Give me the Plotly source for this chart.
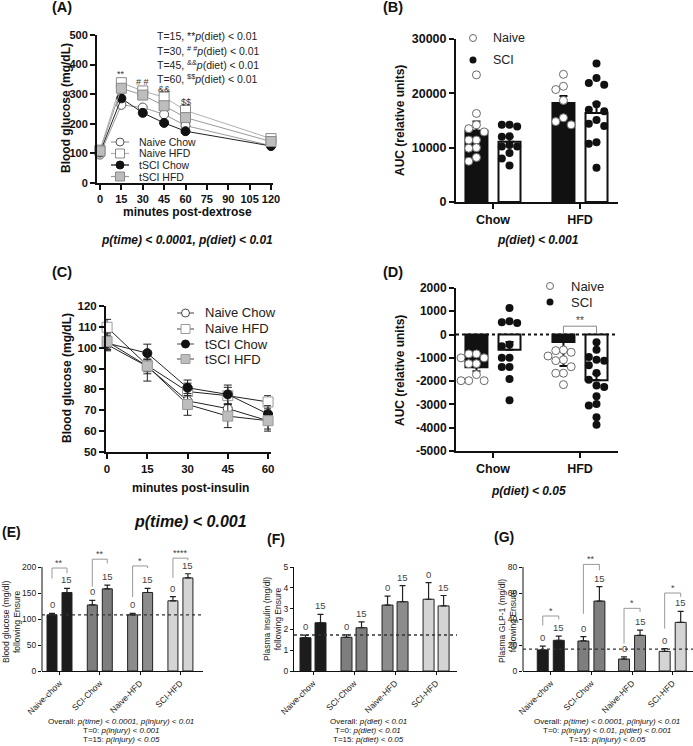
import plotly.graph_objects as go

W, H = 693, 746
FONT = "Liberation Sans, Arial, sans-serif"

# ======================= DATA =======================
# (A) glucose tolerance: blood glucose (mg/dL) vs minutes post-dextrose
gtt_minutes = [0, 15, 30, 45, 60, 120]
gtt_naive_chow = [96, 264, 255, 232, 194, 126]
gtt_naive_chow_sem = [5, 9, 8, 8, 7, 4]
gtt_naive_hfd = [111, 339, 311, 290, 245, 150]
gtt_naive_hfd_sem = [5, 10, 9, 9, 9, 5]
gtt_tsci_chow = [103, 286, 237, 203, 175, 125]
gtt_tsci_chow_sem = [5, 9, 12, 7, 7, 4]
gtt_tsci_hfd = [108, 320, 297, 261, 221, 140]
gtt_tsci_hfd_sem = [5, 12, 14, 12, 12, 5]
gtt_xticks = [0, 15, 30, 45, 60, 75, 90, 105, 120]
gtt_yticks = [0, 100, 200, 300, 400, 500]
gtt_sig_minutes = [15, 30, 45, 60]
gtt_sig_marks = ["**", "# #", "&amp;&amp;", "$$"]
gtt_stat_lines = [
    "T=15, **<i>p</i>(diet) &lt; 0.01",
    "T=30, <sup># #</sup><i>p</i>(diet) &lt; 0.01",
    "T=45, <sup>&amp;&amp;</sup><i>p</i>(diet) &lt; 0.01",
    "T=60, <sup>$$</sup><i>p</i>(diet) &lt; 0.01",
]
series_names = ["Naive Chow", "Naive HFD", "tSCI Chow", "tSCI HFD"]

# (B) GTT area under curve
diets = ["Chow", "HFD"]
gtt_auc_naive_mean = [13100, 18200]
gtt_auc_naive_sem = [1700, 1300]
gtt_auc_sci_mean = [11100, 16400]
gtt_auc_sci_sem = [900, 1800]
gtt_auc_naive_chow = [23400, 16300, 14200, 13500, 12900, 11400, 11400, 10000, 9900, 8200, 7500]
gtt_auc_sci_chow = [14200, 14200, 13900, 12100, 12000, 10500, 10200, 10200, 9000, 8000, 6700]
gtt_auc_naive_hfd = [23500, 21300, 20700, 18700, 15500, 14800, 14200]
gtt_auc_sci_hfd = [25500, 22800, 21900, 21600, 18000, 17000, 16700, 15100, 14400, 14000,
                   11000, 10700, 6300]
gtt_auc_yticks = [0, 10000, 20000, 30000]

# (C) insulin tolerance: blood glucose (mg/dL) vs minutes post-insulin
itt_minutes = [0, 15, 30, 45, 60]
itt_naive_chow = [101.5, 91, 74.5, 70.8, 65]
itt_naive_chow_sem = [3, 3.5, 4, 4, 4]
itt_naive_hfd = [109.8, 91.5, 79, 77, 74]
itt_naive_hfd_sem = [3.8, 3, 4, 4, 3]
itt_tsci_chow = [102.2, 97.4, 80.8, 77.6, 68.2]
itt_tsci_chow_sem = [3, 4.3, 3.7, 4.5, 4]
itt_tsci_hfd = [103, 91.2, 72.8, 67.2, 65]
itt_tsci_hfd_sem = [4, 7.2, 5.2, 5.5, 5]
itt_xticks = [0, 15, 30, 45, 60]
itt_yticks = [50, 60, 70, 80, 90, 100, 110, 120]

# (D) ITT area under curve
itt_auc_naive_mean = [-1400, -320]
itt_auc_naive_err_up = [0, 0]
itt_auc_naive_err_down = [170, 1030]
itt_auc_sci_mean = [-650, -1960]
itt_auc_sci_err_up = [330, 270]
itt_auc_sci_err_down = [0, 0]
itt_auc_naive_chow = [-830, -830, -1000, -1000, -1250, -1250, -1720, -1980, -1980, -1980]
itt_auc_sci_chow = [1140, 500, 530, 570, -430, -505, -1000, -1000, -1390, -1390, -1910, -2820]
itt_auc_naive_hfd = [-660, -690, -760, -920, -1080, -1120, -1380, -1660, -1660, -2150]
itt_auc_sci_hfd = [-330, -650, -960, -1080, -1120, -1320, -1650, -1940, -2190, -2250,
                   -2650, -2980, -3050, -3550, -3870]
itt_auc_yticks = [-5000, -4000, -3000, -2000, -1000, 0, 1000, 2000]

# (E)(F)(G) responses following Ensure at T=0 and T=15
ensure_groups = ["Naive-chow", "SCI-Chow", "Naive-HFD", "SCI-HFD"]
ensure_times = ["0", "15"]
glucose_t0 = [108, 127, 108, 135]
glucose_t0_sem = [3, 9, 3, 8]
glucose_t15 = [151, 158, 151, 179]
glucose_t15_sem = [8, 7, 8, 8]
glucose_ref = 108
glucose_sig = ["**", "**", "*", "****"]
glucose_yticks = [0, 50, 100, 150, 200]

insulin_t0 = [1.60, 1.62, 3.17, 3.45]
insulin_t0_sem = [0.12, 0.12, 0.43, 0.80]
insulin_t15 = [2.32, 2.08, 3.33, 3.13]
insulin_t15_sem = [0.40, 0.28, 0.77, 0.50]
insulin_ref = 1.73
insulin_yticks = [0, 1, 2, 3, 4, 5]

glp1_t0 = [16.2, 23.1, 9.2, 15.1]
glp1_t0_sem = [3.0, 3.3, 1.6, 2.1]
glp1_t15 = [23.6, 53.8, 27.4, 37.4]
glp1_t15_sem = [3.3, 11.1, 4.1, 8.5]
glp1_ref = 16.8
glp1_sig = ["*", "**", "*", "*"]
glp1_yticks = [0, 20, 40, 60, 80]

# ======================= LAYOUT HELPERS =======================
def X(px):
    return px / W


def Y(py):
    return 1 - py / H


layout = dict(width=W, height=H, margin=dict(l=0, r=0, t=0, b=0, autoexpand=False),
              paper_bgcolor="white", plot_bgcolor="rgba(0,0,0,0)",
              showlegend=False, font=dict(family=FONT, color="#111"))
annotations = []
shapes = []
fig = go.Figure()


def ann(text, px, py, size, bold=False, italic=False, xanchor="center", yanchor="middle",
        angle=0, color="#111"):
    t = text
    if italic:
        t = "<i>" + t + "</i>"
    if bold:
        t = "<b>" + t + "</b>"
    annotations.append(dict(text=t, x=X(px), y=Y(py), xref="paper", yref="paper",
                            xanchor=xanchor, yanchor=yanchor, showarrow=False,
                            textangle=angle, font=dict(family=FONT, size=size, color=color)))


def gp_axis(rng, tickvals, ticktext=None, size=11, lw=2, ticklen=5, bold=True, color="#111",
            showline=True, angle=None):
    d = dict(range=rng, tickvals=tickvals, showline=showline, linecolor="#111", linewidth=lw,
             ticks="outside", ticklen=ticklen, tickwidth=lw, tickcolor="#111",
             showgrid=False, zeroline=False, fixedrange=True, automargin=False,
             tickfont=dict(family=FONT, size=size, color=color,
                           weight="bold" if bold else "normal"))
    d["ticktext"] = ticktext if ticktext is not None else [str(v) for v in tickvals]
    if angle is not None:
        d["tickangle"] = angle
    return d


def set_axes(n, xdom, ydom, xax, yax):
    s = "" if n == 1 else str(n)
    xax["domain"] = [max(0, X(xdom[0])), min(1, X(xdom[1]))]
    xax["anchor"] = "y" + s
    yax["domain"] = [max(0, Y(ydom[0])), min(1, Y(ydom[1]))]
    yax["anchor"] = "x" + s
    layout["xaxis" + s] = xax
    layout["yaxis" + s] = yax
    return ("x" + s, "y" + s)


def legend_marker(px, py, symbol, size, fill, edge, ew=1):
    r = size / 2
    shapes.append(dict(type="circle" if symbol == "circle" else "rect", xref="paper", yref="paper",
                       xsizemode="pixel", ysizemode="pixel", xanchor=X(px), yanchor=Y(py),
                       x0=-r, x1=r, y0=-r, y1=r, fillcolor=fill,
                       line=dict(color=edge, width=ew), layer="above"))


def legend_line(px0, px1, py, color, width=1):
    shapes.append(dict(type="line", xref="paper", yref="paper", x0=X(px0), x1=X(px1),
                       y0=Y(py), y1=Y(py), line=dict(color=color, width=width), layer="above"))


def swarm(vals, unit_px, step, diam):
    order = sorted(range(len(vals)), key=lambda i: -vals[i])
    cands = [0.0] + [s * k * step for k in range(1, 8) for s in (-1, 1)]
    placed, out = [], [0.0] * len(vals)
    for i in order:
        yy = vals[i] * unit_px
        chosen = cands[-1]
        for c in cands:
            if all((c - a) ** 2 + (yy - b) ** 2 >= 0.9 * diam ** 2 for a, b in placed):
                chosen = c
                break
        placed.append((chosen, yy))
        out[i] = chosen
    return out


# ======================= (A) =======================
ax_a = set_axes(1, (97, 273), (183, 35),
                gp_axis([-2.1, 121.4], gtt_xticks, size=11),
                gp_axis([0, 500], gtt_yticks, size=11))
styleA = [
    dict(symbol="circle", size=9, fill="white", edge="#555", line="#9a9a9a"),
    dict(symbol="square", size=10, fill="white", edge="#8a8a8a", line="#b0b0b0"),
    dict(symbol="circle", size=9, fill="#111", edge="#111", line="#222"),
    dict(symbol="square", size=10, fill="#bdbdbd", edge="#8a8a8a", line="#9a9a9a"),
]
seriesA = [(gtt_naive_chow, gtt_naive_chow_sem), (gtt_naive_hfd, gtt_naive_hfd_sem),
           (gtt_tsci_chow, gtt_tsci_chow_sem), (gtt_tsci_hfd, gtt_tsci_hfd_sem)]
for (vals, sem), st, nm in zip(seriesA, styleA, series_names):
    fig.add_trace(go.Scatter(
        x=gtt_minutes, y=vals, name=nm, mode="lines+markers", xaxis=ax_a[0], yaxis=ax_a[1],
        line=dict(color=st["line"], width=1),
        marker=dict(symbol=st["symbol"], size=st["size"], color=st["fill"],
                    line=dict(color=st["edge"], width=1)),
        error_y=dict(type="data", array=sem, color=st["line"], thickness=1, width=3),
        cliponaxis=False))
# significance symbols above each time point
all_tops = [max(s[0][gtt_minutes.index(m)] + s[1][gtt_minutes.index(m)] for s in seriesA)
            for m in gtt_sig_minutes]
for m, mark, top in zip(gtt_sig_minutes, gtt_sig_marks, all_tops):
    annotations.append(dict(text=mark, x=m, y=top, xref=ax_a[0], yref=ax_a[1], showarrow=False,
                            yanchor="bottom", yshift=-1,
                            font=dict(family=FONT, size=9, color="#333")))
for i, line in enumerate(gtt_stat_lines):
    ann(line, 155, 36 + i * 14.2, 10.5, xanchor="left", color="#222")
legA_rows = [142, 153.5, 165, 176.5]
for py, st, nm in zip(legA_rows, styleA, series_names):
    legend_line(111, 129, py, st["line"] if st["fill"] != "#111" else "#111", 1.2)
    legend_marker(120, py, st["symbol"], st["size"] - 1, st["fill"], st["edge"], 1)
    ann(nm, 137, py, 10.5, xanchor="left", color="#222")
ann("(A)", 62, 7.5, 14.5, bold=True)
ann("Blood glucose (mg/dL)", 66, 108, 12, bold=True, angle=-90)
ann("minutes post-dextrose", 187, 212, 12, bold=True)
ann("p(time) &lt; 0.0001, p(diet) &lt; 0.01", 187, 240, 12, bold=True, italic=True)

# ======================= (B) =======================
grp_x = [1, 2]
OFF, BW = 0.19, 0.253
ax_b = set_axes(2, (456, 618), (202, 39),
                gp_axis([0.575, 2.437], grp_x, diets, size=12.5),
                gp_axis([0, 30000], gtt_auc_yticks, size=12.5))
fig.add_trace(go.Bar(x=[g - OFF for g in grp_x], y=gtt_auc_naive_mean, width=BW, name="Naive",
                     xaxis=ax_b[0], yaxis=ax_b[1],
                     marker=dict(color="#111", line=dict(color="#111", width=2)),
                     error_y=dict(type="data", array=gtt_auc_naive_sem, arrayminus=[0, 0],
                                  symmetric=False, color="#111", thickness=2, width=4)))
fig.add_trace(go.Bar(x=[g + OFF for g in grp_x], y=gtt_auc_sci_mean, width=BW, name="SCI",
                     xaxis=ax_b[0], yaxis=ax_b[1],
                     marker=dict(color="white", line=dict(color="#111", width=2)),
                     error_y=dict(type="data", array=gtt_auc_sci_sem, arrayminus=[0, 0],
                                  symmetric=False, color="#111", thickness=2, width=4)))
B_YPX = 163 / 30000.0
B_XPX = 87.0


def add_points(ax, vals, xc, ypx, open_marker):
    offs = swarm(vals, ypx, 7.7, 7.7)
    fig.add_trace(go.Scatter(
        x=[xc + o / B_XPX for o in offs], y=vals, mode="markers", xaxis=ax[0], yaxis=ax[1],
        marker=dict(symbol="circle", size=8, color="white" if open_marker else "#111",
                    line=dict(color="#6a6a6a" if open_marker else "#111",
                              width=1 if open_marker else 0)),
        cliponaxis=False))


add_points(ax_b, gtt_auc_naive_chow, 1 - OFF, B_YPX, True)
add_points(ax_b, gtt_auc_sci_chow, 1 + OFF, B_YPX, False)
add_points(ax_b, gtt_auc_naive_hfd, 2 - OFF, B_YPX, True)
add_points(ax_b, gtt_auc_sci_hfd, 2 + OFF, B_YPX, False)
legend_marker(473, 38, "circle", 7, "white", "#6a6a6a", 1)
ann("Naive", 491, 38, 12.5, xanchor="left", color="#222")
legend_marker(473, 60, "circle", 7, "#111", "#111", 0)
ann("SCI", 491, 60, 12.5, xanchor="left", color="#222")
ann("(B)", 393, 7.5, 14.5, bold=True)
ann("AUC (relative units)", 400, 120, 12, bold=True, angle=-90)
ann("p(diet) &lt; 0.001", 538, 240, 12, bold=True, italic=True)

# ======================= (C) =======================
ax_c = set_axes(3, (106, 271), (452, 306),
                gp_axis([-0.4, 61.1], itt_xticks, size=11.5),
                gp_axis([50, 120], itt_yticks, size=11.5))
styleC = [
    dict(symbol="circle", size=9, fill="white", edge="#444"),
    dict(symbol="square", size=10, fill="white", edge="#9a9a9a"),
    dict(symbol="circle", size=9, fill="#111", edge="#111"),
    dict(symbol="square", size=10, fill="#bdbdbd", edge="#9a9a9a"),
]
seriesC = [(itt_naive_chow, itt_naive_chow_sem), (itt_naive_hfd, itt_naive_hfd_sem),
           (itt_tsci_chow, itt_tsci_chow_sem), (itt_tsci_hfd, itt_tsci_hfd_sem)]
for (vals, sem), st, nm in zip(seriesC, styleC, series_names):
    fig.add_trace(go.Scatter(
        x=itt_minutes, y=vals, name=nm, mode="lines+markers", xaxis=ax_c[0], yaxis=ax_c[1],
        line=dict(color="#222", width=1),
        marker=dict(symbol=st["symbol"], size=st["size"], color=st["fill"],
                    line=dict(color=st["edge"], width=1)),
        error_y=dict(type="data", array=sem, color="#222", thickness=1, width=4),
        cliponaxis=False))
legC_rows = [313, 329, 344, 359]
for py, st, nm in zip(legC_rows, styleC, series_names):
    legend_line(177, 194, py, "#444", 1)
    legend_marker(185.5, py, st["symbol"], st["size"] - 1, st["fill"], st["edge"], 1)
    ann(nm, 203, py, 13, xanchor="left", color="#222")
ann("(C)", 62, 272, 14.5, bold=True)
ann("Blood glucose (mg/dL)", 67, 378, 12, bold=True, angle=-90)
ann("minutes post-insulin", 190, 488, 12, bold=True)

# ======================= (D) =======================
ax_d = set_axes(4, (456, 618), (451, 288),
                gp_axis([0.575, 2.437], grp_x, diets, size=12.5),
                gp_axis([-5000, 2000], itt_auc_yticks, size=12))
fig.add_trace(go.Bar(x=[g - OFF for g in grp_x], y=itt_auc_naive_mean, width=BW,
                     xaxis=ax_d[0], yaxis=ax_d[1],
                     marker=dict(color="#111", line=dict(color="#111", width=2)),
                     error_y=dict(type="data", array=itt_auc_naive_err_up,
                                  arrayminus=itt_auc_naive_err_down, symmetric=False,
                                  color="#111", thickness=2, width=4)))
fig.add_trace(go.Bar(x=[g + OFF for g in grp_x], y=itt_auc_sci_mean, width=BW,
                     xaxis=ax_d[0], yaxis=ax_d[1],
                     marker=dict(color="white", line=dict(color="#111", width=2)),
                     error_y=dict(type="data", array=itt_auc_sci_err_up,
                                  arrayminus=itt_auc_sci_err_down, symmetric=False,
                                  color="#111", thickness=2, width=4)))
D_YPX = 163 / 7000.0
add_points(ax_d, itt_auc_naive_chow, 1 - OFF, D_YPX, True)
add_points(ax_d, itt_auc_sci_chow, 1 + OFF, D_YPX, False)
add_points(ax_d, itt_auc_naive_hfd, 2 - OFF, D_YPX, True)
add_points(ax_d, itt_auc_sci_hfd, 2 + OFF, D_YPX, False)
shapes.append(dict(type="line", xref="x4 domain", yref="y4", x0=0, x1=1, y0=0, y1=0,
                   line=dict(color="#111", width=2, dash="dot"), layer="below"))
# significance bracket between HFD groups
shapes.append(dict(type="path", xref="x4", yref="y4",
                   path="M %f,%f L %f,%f L %f,%f L %f,%f" % (2 - OFF, 40, 2 - OFF, 360,
                                                            2 + OFF, 360, 2 + OFF, 40),
                   line=dict(color="#888", width=1)))
annotations.append(dict(text="**", x=2, y=360, xref="x4", yref="y4", showarrow=False,
                        yanchor="bottom", yshift=-2, font=dict(family=FONT, size=10, color="#444")))
legend_marker(550, 286, "circle", 7, "white", "#6a6a6a", 1)
ann("Naive", 569, 286, 13, xanchor="left", color="#222")
legend_marker(550, 302, "circle", 7, "#111", "#111", 0)
ann("SCI", 569, 302, 13, xanchor="left", color="#222")
ann("(D)", 393, 272, 14.5, bold=True)
ann("AUC (relative units)", 400, 370, 12, bold=True, angle=-90)
ann("p(diet) &lt; 0.05", 528, 491, 12, bold=True, italic=True)

ann("p(time) &lt; 0.001", 190, 521, 16, bold=True, italic=True)

# ======================= (E)(F)(G) =======================
group_colors = ["#1c1c1c", "#7e7e7e", "#8c8c8c", "#d4d4d4"]
BOTTOM_PX, TOP_PX = 671, 567


def ensure_panel(n, xdom, xrange_, off, bw, axis_top, yticks, rng_top,
                 t0, t0s, t15, t15s, ref, brackets, ytitle, ytitle_px, notes, notes_px,
                 tag, tag_px):
    top_px = BOTTOM_PX - (rng_top / axis_top) * (BOTTOM_PX - TOP_PX)
    s = str(n)
    xa = gp_axis(xrange_, list(range(4)), ensure_groups, size=8.5, lw=1, ticklen=3, bold=False,
                 color="#222", angle=-45)
    ya = gp_axis([0, rng_top], yticks, size=8.5, lw=1, ticklen=3, bold=False, color="#222",
                 showline=(rng_top == axis_top))
    ax = set_axes(n, xdom, (BOTTOM_PX, top_px), xa, ya)
    if rng_top != axis_top:
        shapes.append(dict(type="line", xref="x%s domain" % s, yref="y" + s, x0=0, x1=0,
                           y0=0, y1=axis_top, line=dict(color="#111", width=1)))
    gx = list(range(4))
    for k, (vals, sem) in enumerate([(t0, t0s), (t15, t15s)]):
        xs = [g + (off if k else -off) for g in gx]
        fig.add_trace(go.Bar(x=xs, y=vals, width=bw, xaxis=ax[0], yaxis=ax[1],
                             marker=dict(color=group_colors, line=dict(color="#222", width=1)),
                             error_y=dict(type="data", array=sem, arrayminus=[0] * 4,
                                          symmetric=False, color="#222", thickness=1.2, width=3)))
        for xv, v, e in zip(xs, vals, sem):
            annotations.append(dict(text=ensure_times[k], x=xv, y=v + e, xref=ax[0], yref=ax[1],
                                    showarrow=False, yanchor="bottom", yshift=1,
                                    font=dict(family=FONT, size=9.5, color="#444")))
    shapes.append(dict(type="line", xref="x%s domain" % s, yref="y" + s, x0=0, x1=1,
                       y0=ref, y1=ref, line=dict(color="#333", width=1.3, dash="dot")))
    for g, (top, lb, rb, stars) in zip(gx, brackets):
        shapes.append(dict(type="path", xref=ax[0], yref=ax[1],
                           path="M %f,%f L %f,%f L %f,%f L %f,%f" % (g - off, lb, g - off, top,
                                                                    g + off, top, g + off, rb),
                           line=dict(color="#999", width=1)))
        annotations.append(dict(text=stars, x=g, y=top, xref=ax[0], yref=ax[1], showarrow=False,
                                yanchor="bottom", yshift=-2,
                                font=dict(family=FONT, size=9, color="#444")))
    ann(ytitle, ytitle_px[0], ytitle_px[1], 8.5, angle=-90, color="#222")
    for i, line in enumerate(notes):
        ann(line, notes_px[0], notes_px[1] + i * 9.3, 8, color="#111")
    ann(tag, tag_px[0], tag_px[1], 14, bold=True)


glucose_brackets = [(198, 178, 188, glucose_sig[0]), (215, 162, 207, glucose_sig[1]),
                    (202, 142, 198, glucose_sig[2]), (217, 179, 213, glucose_sig[3])]
ensure_panel(5, (42, 203), [-0.434, 3.56], 0.186, 0.248, 200, glucose_yticks, 235,
             glucose_t0, glucose_t0_sem, glucose_t15, glucose_t15_sem, glucose_ref,
             glucose_brackets, "Blood glucose (mg/dl)<br>following Ensure", (11, 622),
             ["Overall: <i>p(time) &lt; 0.0001, p(injury) &lt; 0.01</i>",
              "T=0: <i>p(injury) &lt; 0.001</i>", "T=15: <i>p(injury) &lt; 0.05</i>"],
             (121, 721), "(E)", (11, 532))

ensure_panel(6, (294, 457), [-0.463, 3.51], 0.183, 0.268, 5, insulin_yticks, 5,
             insulin_t0, insulin_t0_sem, insulin_t15, insulin_t15_sem, insulin_ref,
             [], "Plasma Insulin (mg/dl)<br>following Ensure", (272, 619),
             ["Overall: <i>p(diet) &lt; 0.01</i>", "T=0: <i>p(diet) &lt; 0.01</i>",
              "T=15: <i>p(diet) &lt; 0.05</i>"],
             (368, 721), "(F)", (276, 539))

glp1_brackets = [(42.3, 35, 39.7, glp1_sig[0]), (82, 44, 77.4, glp1_sig[1]),
                 (48.2, 21, 45.4, glp1_sig[2]), (60, 32.6, 57, glp1_sig[3])]
ensure_panel(7, (523, 693), [-0.683, 3.5], 0.197, 0.27, 80, glp1_yticks, 90,
             glp1_t0, glp1_t0_sem, glp1_t15, glp1_t15_sem, glp1_ref,
             glp1_brackets, "Plasma GLP-1 (mg/dl)<br>following Ensure", (507, 621),
             ["Overall: <i>p(time) &lt; 0.0001, p(injury) &lt; 0.01</i>",
              "T=0: <i>p(injury) &lt; 0.01, p(diet) &lt; 0.001</i>",
              "T=15: <i>p(injury) &lt; 0.05</i>"],
             (607, 721), "(G)", (504, 537))

layout["annotations"] = annotations
layout["shapes"] = shapes
layout["barmode"] = "overlay"
fig.update_layout(**layout)
# remove the browser's default page margin so the figure starts at the window corner
fig.write_html("out.html", config={"displayModeBar": False},
               post_script="document.body.style.margin='0px';")
